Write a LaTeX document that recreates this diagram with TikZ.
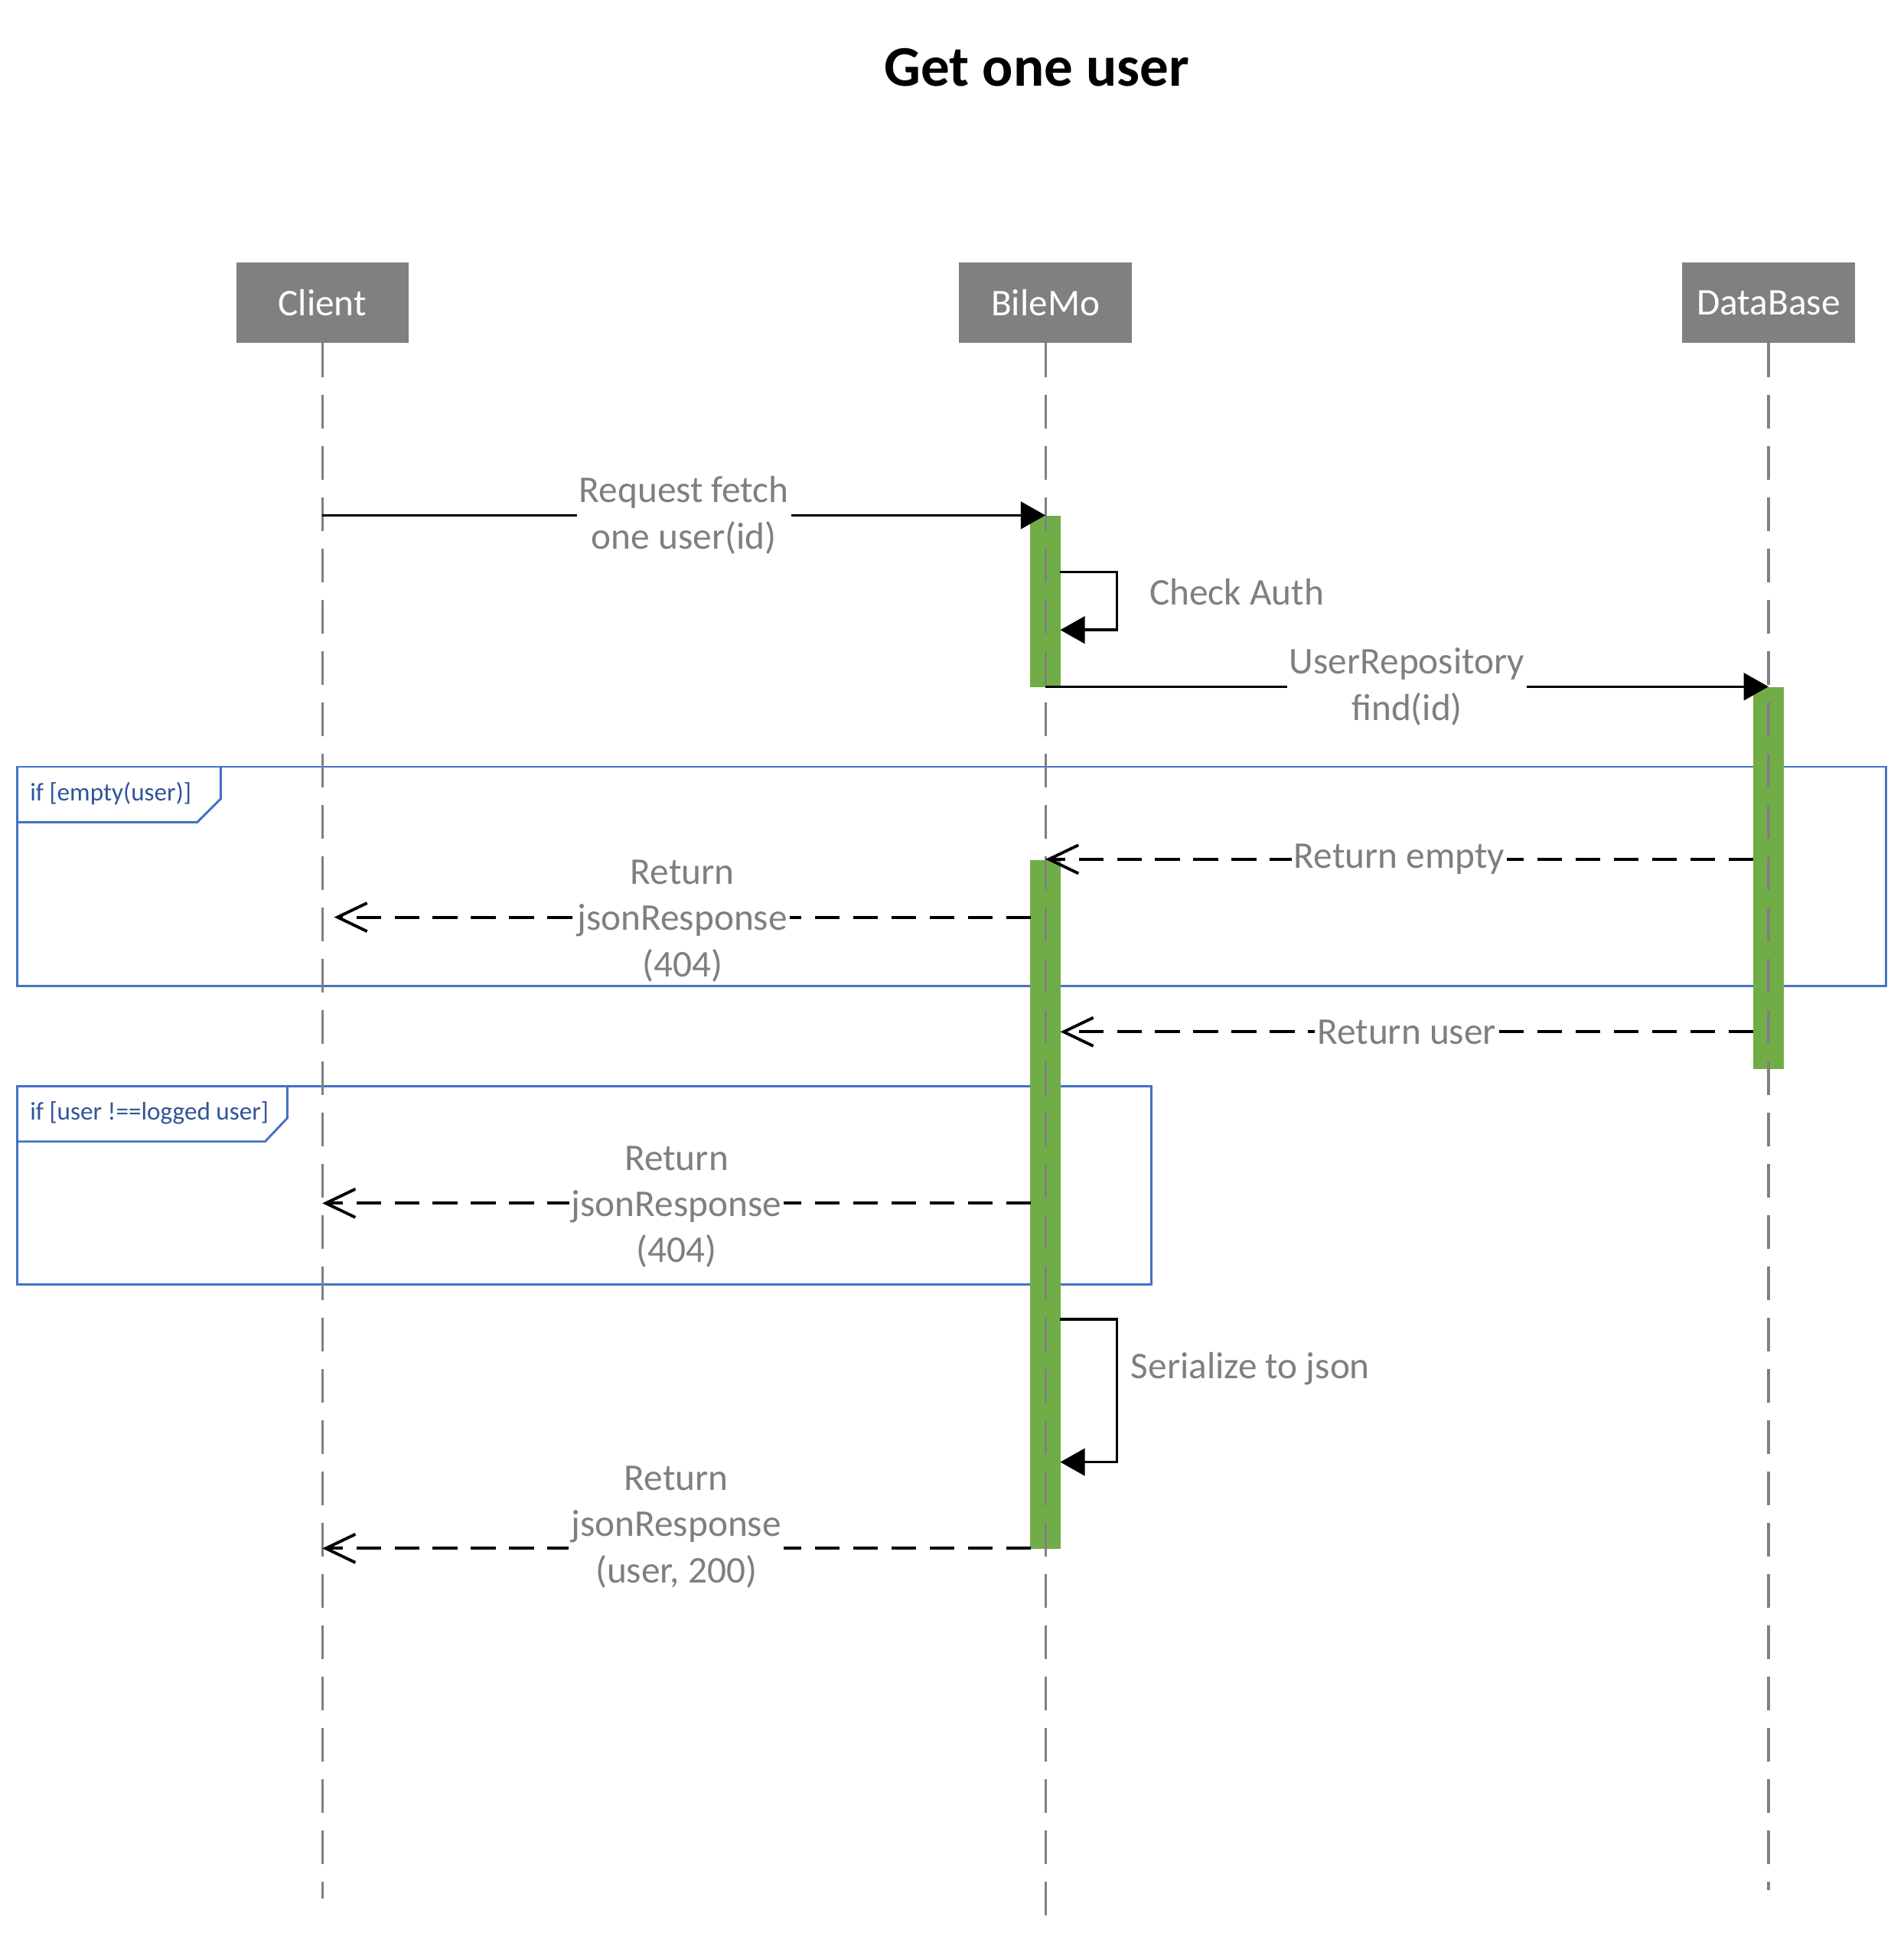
\documentclass[tikz,border=0pt]{standalone}
\usepackage{fontspec}
\setmainfont{Carlito}
\usetikzlibrary{arrows.meta}
\definecolor{headgray}{HTML}{808080}
\definecolor{barGreen}{HTML}{70AD47}
\definecolor{frameBlue}{HTML}{4472C4}
\definecolor{labelGray}{HTML}{7F7F7F}
\definecolor{guardBlue}{HTML}{2F5597}
\begin{document}
\begin{tikzpicture}[x=0.5pt,y=-0.5pt,
  header/.style={fill=headgray, text=white, minimum width=70pt, minimum height=32.5pt,
    inner sep=0pt, font=\fontsize{15.3}{18.75}\selectfont},
  lifeline/.style={draw=headgray, line width=1pt, dash pattern=on 13.8pt off 7pt},
  actbar/.style={fill=barGreen, minimum width=12.5pt, inner sep=0pt, anchor=north},
  call/.style={draw=black, line width=1.1pt, -{Triangle[length=10pt,width=11pt]}},
  reply/.style={draw=black, line width=1.2pt, dash pattern=on 10pt off 5.5pt,
    -{Straight Barb[length=12pt,width=11.5pt,line width=1.2pt]}},
  msg/.style={fill=white, text=labelGray, inner xsep=1pt, inner ysep=0pt, align=center,
    font=\fontsize{15.3}{18.75}\selectfont},
  note/.style={text=labelGray, anchor=west, inner sep=0pt, font=\fontsize{15.3}{18.75}\selectfont},
  frame/.style={draw=frameBlue, line width=0.9pt},
  guard/.style={text=guardBlue, anchor=west, inner sep=0pt, font=\fontsize{10.3}{12.5}\selectfont}
]
\useasboundingbox (0,0) rectangle (1544,1568);

% title
\node[font=\fontsize{23.3}{28}\selectfont\bfseries] (title) at (841,55) {Get one user};

% combined fragments
\draw[frame] (14,622) rectangle (1530,800);
\draw[frame] (14,667) -- (160,667) -- (179,648) -- (179,622);
\node[guard] (g1) at (24,644) {if [empty(user)]};
\draw[frame] (14,881) rectangle (934,1042);
\draw[frame] (14,926) -- (215,926) -- (233,907) -- (233,881);
\node[guard] (g2) at (24,903) {if [user !==logged user]};

% participants
\node[header] (client) at (261.5,245.5) {Client};
\node[header] (bilemo) at (848,245.5) {BileMo};
\node[header] (db) at (1434.5,245.5) {DataBase};

% activation bars
\node[actbar, minimum height=69.5pt] (bmA) at (848,418) {};
\node[actbar, minimum height=279.5pt] (bmB) at (848,697) {};
\node[actbar, minimum height=155pt] (dbA) at (1434.5,557) {};

% lifelines
\coordinate (clientEnd) at (261.5,1540);
\coordinate (bilemoEnd) at (848,1555);
\coordinate (dbEnd) at (1434.5,1533);
\draw[lifeline] (client.south) -- (clientEnd);
\draw[lifeline] (bilemo.south) -- (bilemoEnd);
\draw[lifeline] (db.south) -- (dbEnd);

% message end points
\coordinate (reqFrom) at (261.5,418);
\coordinate (reqTo) at (848,418);
\coordinate (authOut) at (860,464);
\coordinate (authIn) at (860,511);
\coordinate (findFrom) at (848,557);
\coordinate (findTo) at (1434.5,557);
\coordinate (emptyFrom) at (1422,697);
\coordinate (emptyTo) at (848,697);
\coordinate (nfFromA) at (836,744);
\coordinate (nfToA) at (271,744);
\coordinate (userFrom) at (1422,837);
\coordinate (userTo) at (860,837);
\coordinate (nfFromB) at (836,976);
\coordinate (nfToB) at (261.5,976);
\coordinate (serOut) at (860,1070);
\coordinate (serIn) at (860,1186);
\coordinate (okFrom) at (836,1256);
\coordinate (okTo) at (261.5,1256);

% messages
\draw[call] (reqFrom) -- node[msg] (reqLbl) {Request fetch\\one user(id)} (reqTo);
\draw[call] (authOut) -- ++(46,0) |- (authIn);
\node[note] (authLbl) at (932,480) {Check Auth};
\draw[call] (findFrom) -- node[msg] (findLbl) {UserRepository\\find(id)} (findTo);
\draw[reply] (emptyFrom) -- node[msg] (emptyLbl) {Return empty} (emptyTo);
\draw[reply] (nfFromA) -- node[msg, yshift=-1.5pt] (nfLblA) {Return\\jsonResponse\\(404)} (nfToA);
\draw[reply] (userFrom) -- node[msg] (userLbl) {Return user} (userTo);
\draw[reply] (nfFromB) -- node[msg, yshift=-1.5pt] (nfLblB) {Return\\jsonResponse\\(404)} (nfToB);
\draw[call] (serOut) -- ++(46,0) |- (serIn);
\node[note] (serLbl) at (917,1110) {Serialize to json};
\draw[reply] (okFrom) -- (okTo);
\node[msg] (okLbl) at (548.5,1238.5) {Return\\jsonResponse\\(user, 200)};
\end{tikzpicture}
\end{document}
